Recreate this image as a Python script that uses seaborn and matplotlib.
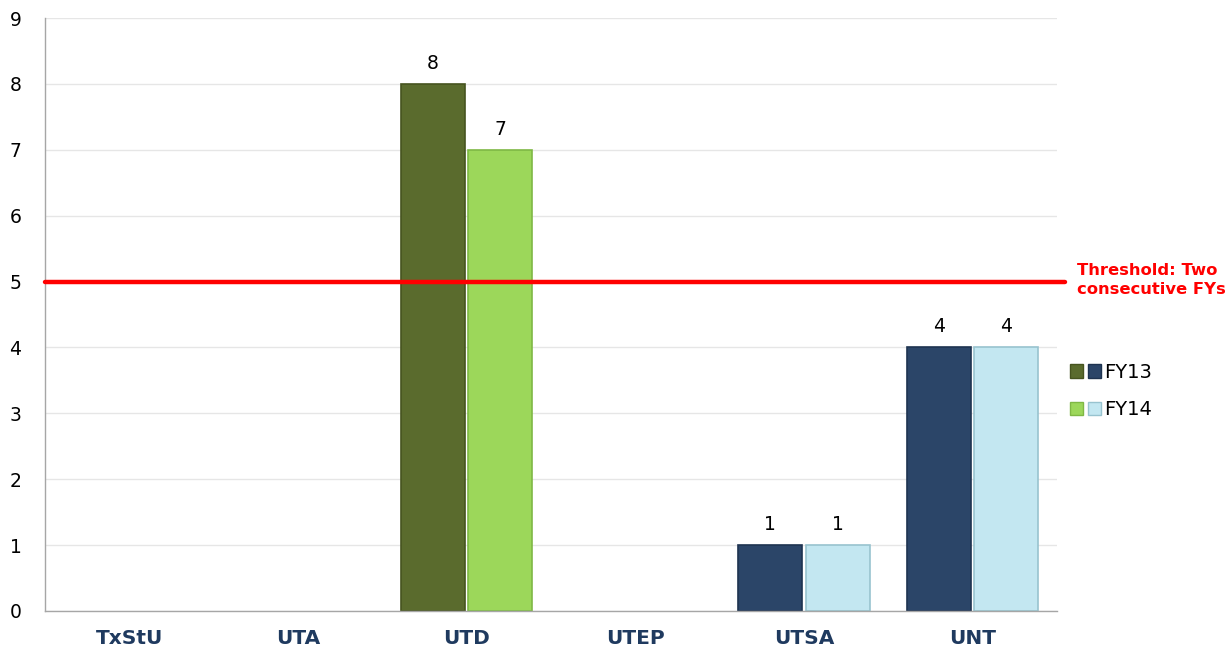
import matplotlib
matplotlib.use("Agg")
import matplotlib.pyplot as plt
import seaborn as sns
import pandas as pd
from matplotlib.patches import Patch
from matplotlib.legend_handler import HandlerTuple

categories = ["TxStU", "UTA", "UTD", "UTEP", "UTSA", "UNT"]
fy13 = [0, 0, 8, 0, 1, 4]
fy14 = [0, 0, 7, 0, 1, 4]
series = ["FY13", "FY14"]
threshold = 5
threshold_label = "Threshold: Two\nconsecutive FYs"

green_cats = {"UTD"}
colors = {
    ("FY13", "green"): "#5A6B2D",
    ("FY14", "green"): "#9CD75A",
    ("FY13", "blue"): "#2B4568",
    ("FY14", "blue"): "#C3E7F1",
}
edge = {
    ("FY13", "green"): "#46541F",
    ("FY14", "green"): "#7FB845",
    ("FY13", "blue"): "#1E3350",
    ("FY14", "blue"): "#98C3CF",
}

df = pd.DataFrame({
    "cat": categories * 2,
    "FY": ["FY13"] * len(categories) + ["FY14"] * len(categories),
    "val": fy13 + fy14,
})

sns.set_style("white")
plt.rcParams["font.family"] = ["DejaVu Sans"]
plt.rcParams["text.color"] = "black"
plt.rcParams["xtick.color"] = "black"
plt.rcParams["ytick.color"] = "black"

fig = plt.figure(figsize=(12.31, 6.55), dpi=100)
ax = fig.add_axes([0.0366, 0.0672, 0.822, 0.9053])

sns.barplot(data=df, x="cat", y="val", hue="FY", order=categories,
            hue_order=series, width=0.8, gap=0.05, ax=ax, legend=False,
            linewidth=0)

for ci, cont in enumerate(ax.containers):
    s = series[ci]
    for cat, bar, v in zip(categories, cont, (fy13, fy14)[ci]):
        tone = "green" if cat in green_cats else "blue"
        bar.set_facecolor(colors[(s, tone)])
        bar.set_edgecolor(edge[(s, tone)])
        bar.set_linewidth(1.2 if v > 0 else 0)
    labels = [str(v) if v > 0 else "" for v in (fy13, fy14)[ci]]
    ax.bar_label(cont, labels=labels, padding=8, fontsize=13.5, color="black")

ax.set_ylim(0, 9)
ax.set_yticks(range(0, 10))
ax.yaxis.grid(True, color="#E6E6E6", linewidth=1)
ax.set_axisbelow(True)
ax.set_xlabel("")
ax.set_ylabel("")
for sp in ["top", "right"]:
    ax.spines[sp].set_visible(False)
for sp in ["left", "bottom"]:
    ax.spines[sp].set_color("#A6A6A6")
    ax.spines[sp].set_linewidth(1)
ax.tick_params(axis="y", labelsize=13.5, pad=17, length=0, labelcolor="black")
ax.tick_params(axis="x", labelsize=14.5, pad=13, length=0, labelcolor="#1F3A5F")
for t in ax.get_xticklabels():
    t.set_fontweight("bold")

ax.axhline(threshold, xmin=0, xmax=1.008, color="#FF0000", linewidth=3.2,
           clip_on=False, zorder=5)
fig.text(0.8745, 0.5725, threshold_label, color="#FF0000", fontsize=11.8,
         fontweight="bold", ha="left", va="center", linespacing=1.4)

h13 = (Patch(facecolor=colors[("FY13", "green")], edgecolor=edge[("FY13", "green")]),
       Patch(facecolor=colors[("FY13", "blue")], edgecolor=edge[("FY13", "blue")]))
h14 = (Patch(facecolor=colors[("FY14", "green")], edgecolor=edge[("FY14", "green")]),
       Patch(facecolor=colors[("FY14", "blue")], edgecolor=edge[("FY14", "blue")]))
leg = fig.legend([h13, h14], series, handler_map={tuple: HandlerTuple(ndivide=None, pad=0.3)},
                 loc="center left", bbox_to_anchor=(0.855, 0.403), frameon=False,
                 fontsize=14, handlelength=1.6, handleheight=0.7, handletextpad=0.15,
                 labelspacing=0.95)
for t in leg.get_texts():
    t.set_color("black")

fig.savefig("out.png", dpi=100)
